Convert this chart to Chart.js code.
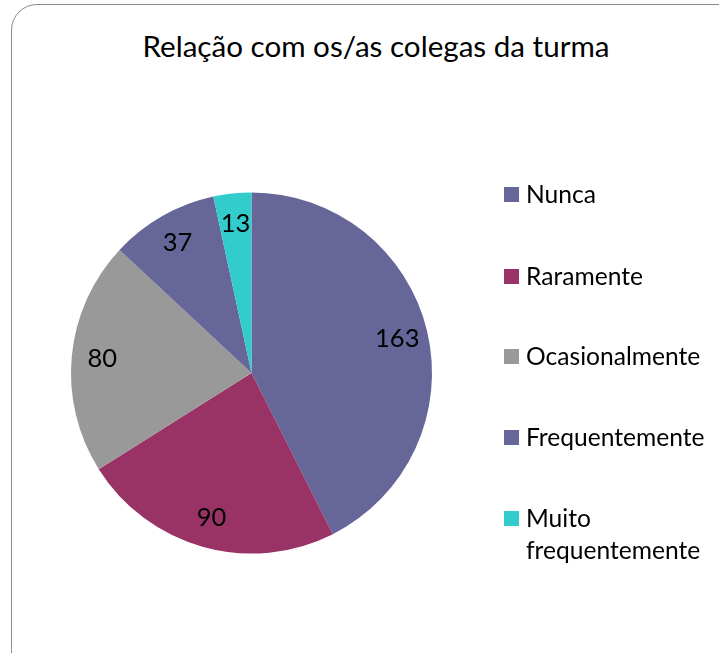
<!DOCTYPE html>
<html>
<head>
<meta charset="utf-8">
<script src="https://cdn.jsdelivr.net/npm/chart.js@4/dist/chart.umd.min.js"></script>
<style>
  html, body { margin: 0; padding: 0; background: #fff; }
  body { width: 719px; height: 653px; position: relative; overflow: hidden; font-family: Lato, "Open Sans", sans-serif; color: #000; }
  #frame { position: absolute; left: 11px; top: 4px; width: 760px; height: 700px; border: 1px solid #8c8c8c; border-radius: 26px; box-sizing: border-box; }
  #title { position: absolute; left: 0; width: 752px; top: 28px; text-align: center; font-size: 29.6px; white-space: nowrap; }
  #chartBox { position: absolute; left: 0; top: 0; width: 719px; height: 653px; }
  #legend { position: absolute; left: 504px; top: 0; }
  .item { position: absolute; left: 0; width: 215px; font-size: 24.6px; line-height: 32px; }
  .sw { position: absolute; left: 0; top: 9px; width: 15px; height: 15px; }
  .txt { position: absolute; left: 22px; top: 0; }
</style>
</head>
<body>
<div id="frame"></div>
<div id="title">Relação com os/as colegas da turma</div>
<div id="chartBox"><canvas id="c" width="719" height="653"></canvas></div>
<div id="legend"></div>
<script>
const titleText = 'Relação com os/as colegas da turma';
const categories = ['Nunca', 'Raramente', 'Ocasionalmente', 'Frequentemente', 'Muito frequentemente'];
const counts = [163, 90, 80, 37, 13];
const sliceColors = ['#666699', '#993366', '#999999', '#666699', '#33CCCC'];

// value labels placed inside each slice, along its bisector
const sliceLabels = {
  id: 'sliceLabels',
  afterDatasetsDraw(chart) {
    const ctx = chart.ctx;
    const meta = chart.getDatasetMeta(0);
    ctx.save();
    ctx.font = '25.5px Lato, "Open Sans", sans-serif';
    ctx.fillStyle = '#000';
    ctx.textAlign = 'center';
    ctx.textBaseline = 'middle';
    meta.data.forEach((arc, i) => {
      const p = arc.getProps(['x', 'y', 'startAngle', 'endAngle', 'outerRadius'], true);
      const mid = (p.startAngle + p.endAngle) / 2;
      const r = p.outerRadius * 0.83;
      ctx.fillText(String(chart.data.datasets[0].data[i]), p.x + Math.cos(mid) * r, p.y + Math.sin(mid) * r);
    });
    ctx.restore();
  }
};

new Chart(document.getElementById('c'), {
  type: 'pie',
  data: {
    labels: categories,
    datasets: [{ data: counts, backgroundColor: sliceColors, borderWidth: 0 }]
  },
  options: {
    responsive: false,
    animation: false,
    layout: { padding: { left: 71, top: 192, right: 287, bottom: 99 } },
    plugins: { legend: { display: false }, tooltip: { enabled: false }, title: { display: false } }
  },
  plugins: [sliceLabels]
});

// legend entries at the right of the pie
const legendTops = [178, 260, 340, 421, 502];
const legend = document.getElementById('legend');
categories.forEach((name, i) => {
  const item = document.createElement('div');
  item.className = 'item';
  item.style.top = legendTops[i] + 'px';
  const sw = document.createElement('div');
  sw.className = 'sw';
  sw.style.background = sliceColors[i];
  const txt = document.createElement('div');
  txt.className = 'txt';
  txt.innerHTML = name === 'Muito frequentemente' ? 'Muito<br>frequentemente' : name;
  item.appendChild(sw);
  item.appendChild(txt);
  legend.appendChild(item);
});
document.getElementById('title').textContent = titleText;
</script>
</body>
</html>
